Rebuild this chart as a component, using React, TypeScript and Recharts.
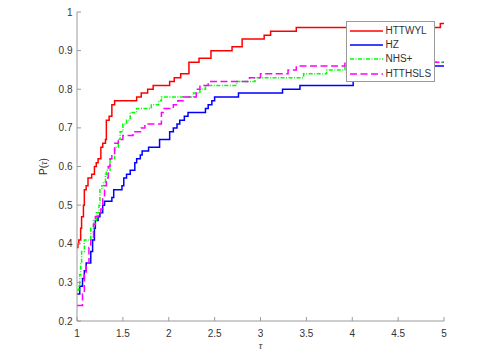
import { LineChart, Line, XAxis, YAxis, Legend, Label } from "recharts"

const tauTicks = [1, 1.5, 2, 2.5, 3, 3.5, 4, 4.5, 5]
const pTicks = [0.2, 0.3, 0.4, 0.5, 0.6, 0.7, 0.8, 0.9, 1]

// HTTWYL
const redTau = [1.0, 1.01, 1.02, 1.04, 1.05, 1.07, 1.08, 1.1, 1.12, 1.16, 1.19, 1.21, 1.23, 1.26, 1.28, 1.31, 1.32, 1.35, 1.38, 1.41, 1.65, 1.7, 1.77, 1.83, 2.01, 2.06, 2.13, 2.22, 2.33, 2.46, 2.69, 2.8, 3.04, 3.11, 3.39, 4.96, 5.0]
const redP = [0.39, 0.4, 0.41, 0.44, 0.47, 0.5, 0.54, 0.55, 0.57, 0.58, 0.6, 0.61, 0.62, 0.65, 0.66, 0.67, 0.72, 0.73, 0.76, 0.77, 0.78, 0.79, 0.8, 0.81, 0.82, 0.83, 0.84, 0.87, 0.88, 0.9, 0.91, 0.93, 0.94, 0.95, 0.96, 0.97, 0.97]

// HZ
const blueTau = [1.0, 1.03, 1.06, 1.08, 1.1, 1.15, 1.17, 1.19, 1.2, 1.23, 1.25, 1.28, 1.3, 1.38, 1.4, 1.49, 1.51, 1.54, 1.58, 1.63, 1.65, 1.69, 1.71, 1.78, 1.9, 2.01, 2.05, 2.09, 2.12, 2.17, 2.21, 2.4, 2.43, 2.47, 2.5, 2.76, 3.24, 3.43, 4.01, 4.2, 4.5, 5.0]
const blueP = [0.27, 0.29, 0.31, 0.33, 0.35, 0.38, 0.41, 0.44, 0.46, 0.47, 0.48, 0.5, 0.51, 0.52, 0.54, 0.55, 0.57, 0.58, 0.59, 0.61, 0.62, 0.63, 0.64, 0.65, 0.67, 0.69, 0.7, 0.71, 0.72, 0.73, 0.74, 0.75, 0.76, 0.77, 0.78, 0.79, 0.8, 0.81, 0.83, 0.85, 0.86, 0.86]

// NHS+
const greenTau = [1.0, 1.02, 1.03, 1.04, 1.05, 1.08, 1.15, 1.18, 1.21, 1.24, 1.25, 1.27, 1.29, 1.31, 1.32, 1.36, 1.41, 1.45, 1.47, 1.5, 1.54, 1.58, 1.65, 1.81, 1.89, 1.92, 2.27, 2.34, 2.4, 2.74, 2.94, 3.47, 3.72, 3.92, 4.3, 5.0]
const greenP = [0.28, 0.29, 0.32, 0.35, 0.38, 0.41, 0.44, 0.46, 0.48, 0.5, 0.54, 0.55, 0.56, 0.58, 0.59, 0.62, 0.65, 0.67, 0.69, 0.71, 0.72, 0.74, 0.75, 0.76, 0.77, 0.78, 0.79, 0.8, 0.81, 0.82, 0.83, 0.84, 0.85, 0.86, 0.87, 0.87]

// HTTHSLS
const magentaTau = [1.0, 1.06, 1.08, 1.1, 1.13, 1.15, 1.18, 1.2, 1.23, 1.26, 1.28, 1.3, 1.32, 1.34, 1.36, 1.38, 1.41, 1.45, 1.5, 1.61, 1.7, 1.74, 1.92, 1.95, 2.05, 2.1, 2.16, 2.3, 2.34, 2.43, 2.88, 3.0, 3.3, 3.39, 3.92, 5.0]
const magentaP = [0.24, 0.27, 0.32, 0.35, 0.39, 0.41, 0.45, 0.47, 0.48, 0.49, 0.52, 0.55, 0.57, 0.6, 0.62, 0.63, 0.66, 0.67, 0.68, 0.69, 0.7, 0.71, 0.74, 0.75, 0.76, 0.77, 0.78, 0.8, 0.81, 0.82, 0.83, 0.84, 0.85, 0.86, 0.87, 0.87]

const FONT = '"Liberation Sans", Arial, Helvetica, sans-serif'
const AXIS = "#9a9a9a"
const TEXT = "#333333"

const zip = (tau: number[], p: number[]) => tau.map((t, i) => ({ t, p: p[i] }))

const series = [
  { name: "HTTWYL", data: zip(redTau, redP), color: "#ff0000", dash: undefined as string | undefined },
  { name: "HZ", data: zip(blueTau, blueP), color: "#0000ff", dash: undefined },
  { name: "NHS+", data: zip(greenTau, greenP), color: "#00ff00", dash: "4 1.5 1 1.5" },
  { name: "HTTHSLS", data: zip(magentaTau, magentaP), color: "#ff00ff", dash: "7 3.5" },
]

const BottomTick = ({ x, y, payload }: any) => (
  <g>
    <line x1={x} x2={x} y1={y} y2={y - 4} stroke={AXIS} />
    <text x={x} y={y + 16} textAnchor="middle" fontSize={10} fill={TEXT} fontFamily={FONT}>
      {payload.value}
    </text>
  </g>
)

const LeftTick = ({ x, y, payload }: any) => (
  <g>
    <line x1={x} x2={x + 4} y1={y} y2={y} stroke={AXIS} />
    <text x={x - 4.5} y={y + 3.5} textAnchor="end" fontSize={10} fill={TEXT} fontFamily={FONT}>
      {payload.value}
    </text>
  </g>
)

const TopTick = ({ x, y }: any) => <line x1={x} x2={x} y1={y} y2={y + 4} stroke={AXIS} />
const RightTick = ({ x, y }: any) => <line x1={x} x2={x - 4} y1={y} y2={y} stroke={AXIS} />

const YLabel = ({ viewBox }: any) => {
  const cx = 47
  const cy = viewBox ? viewBox.y + viewBox.height / 2 : 166.5
  return (
    <text x={cx} y={cy} textAnchor="middle" fontSize={10} fill={TEXT} fontFamily={FONT} transform={`rotate(-90, ${cx}, ${cy})`}>
      P(<tspan fontStyle="italic" fontFamily='"Liberation Serif", serif'>τ</tspan>)
    </text>
  )
}

const XLabel = ({ viewBox }: any) => {
  const cx = viewBox ? viewBox.x + viewBox.width / 2 : 260.5
  return (
    <text x={cx} y={349} textAnchor="middle" fontSize={10} fill={TEXT} fontStyle="italic" fontFamily='"Liberation Serif", serif'>
      τ
    </text>
  )
}

const LegendBox = () => (
  <div
    style={{
      width: 89,
      height: 61,
      boxSizing: "border-box",
      border: `1px solid ${AXIS}`,
      background: "#fff",
      paddingTop: 1.5,
      paddingLeft: 3,
      fontFamily: FONT,
      fontSize: 10,
      color: TEXT,
    }}
  >
    {series.map((s) => (
      <div key={s.name} style={{ display: "flex", alignItems: "center", height: 14.4 }}>
        <svg width={34} height={6} style={{ display: "block" }}>
          <line x1={0} x2={33} y1={3} y2={3} stroke={s.color} strokeWidth={1.5} strokeDasharray={s.dash} />
        </svg>
        <span style={{ marginLeft: 1.5, lineHeight: "14px" }}>{s.name}</span>
      </div>
    ))}
  </div>
)

export default function App() {
  return (
    <div style={{ position: "absolute", left: 0, top: 0, background: "#fff" }}>
      <LineChart width={495} height={359} margin={{ top: 12, right: 51, bottom: 0, left: 0 }}>
        <XAxis
          xAxisId={0}
          type="number"
          dataKey="t"
          domain={[1, 5]}
          ticks={tauTicks}
          interval={0}
          allowDataOverflow
          height={38}
          tickSize={0}
          tickMargin={0}
          tickLine={false}
          axisLine={{ stroke: AXIS }}
          tick={<BottomTick />}
        >
          <Label content={<XLabel />} />
        </XAxis>
        <XAxis
          xAxisId="top"
          orientation="top"
          type="number"
          dataKey="t"
          domain={[1, 5]}
          ticks={tauTicks}
          interval={0}
          height={0}
          tickSize={0}
          tickMargin={0}
          tickLine={false}
          axisLine={{ stroke: AXIS }}
          tick={<TopTick />}
        />
        <YAxis
          yAxisId={0}
          type="number"
          domain={[0.2, 1]}
          ticks={pTicks}
          interval={0}
          allowDataOverflow
          width={77}
          tickSize={0}
          tickMargin={0}
          tickLine={false}
          axisLine={{ stroke: AXIS }}
          tick={<LeftTick />}
        >
          <Label content={<YLabel />} />
        </YAxis>
        <YAxis
          yAxisId="right"
          orientation="right"
          type="number"
          domain={[0.2, 1]}
          ticks={pTicks}
          interval={0}
          width={0}
          tickSize={0}
          tickMargin={0}
          tickLine={false}
          axisLine={{ stroke: AXIS }}
          tick={<RightTick />}
        />
        {series.map((s) => (
          <Line
            key={s.name}
            xAxisId={0}
            yAxisId={0}
            data={s.data}
            dataKey="p"
            name={s.name}
            type="stepAfter"
            stroke={s.color}
            strokeWidth={1.5}
            strokeDasharray={s.dash}
            dot={false}
            activeDot={false}
            isAnimationActive={false}
          />
        ))}
        <Legend
          layout="vertical"
          align="center"
          verticalAlign="middle"
          content={<LegendBox />}
          wrapperStyle={{ left: 346, top: 21, width: 89, height: 61, right: "auto", bottom: "auto" }}
        />
      </LineChart>
    </div>
  )
}
